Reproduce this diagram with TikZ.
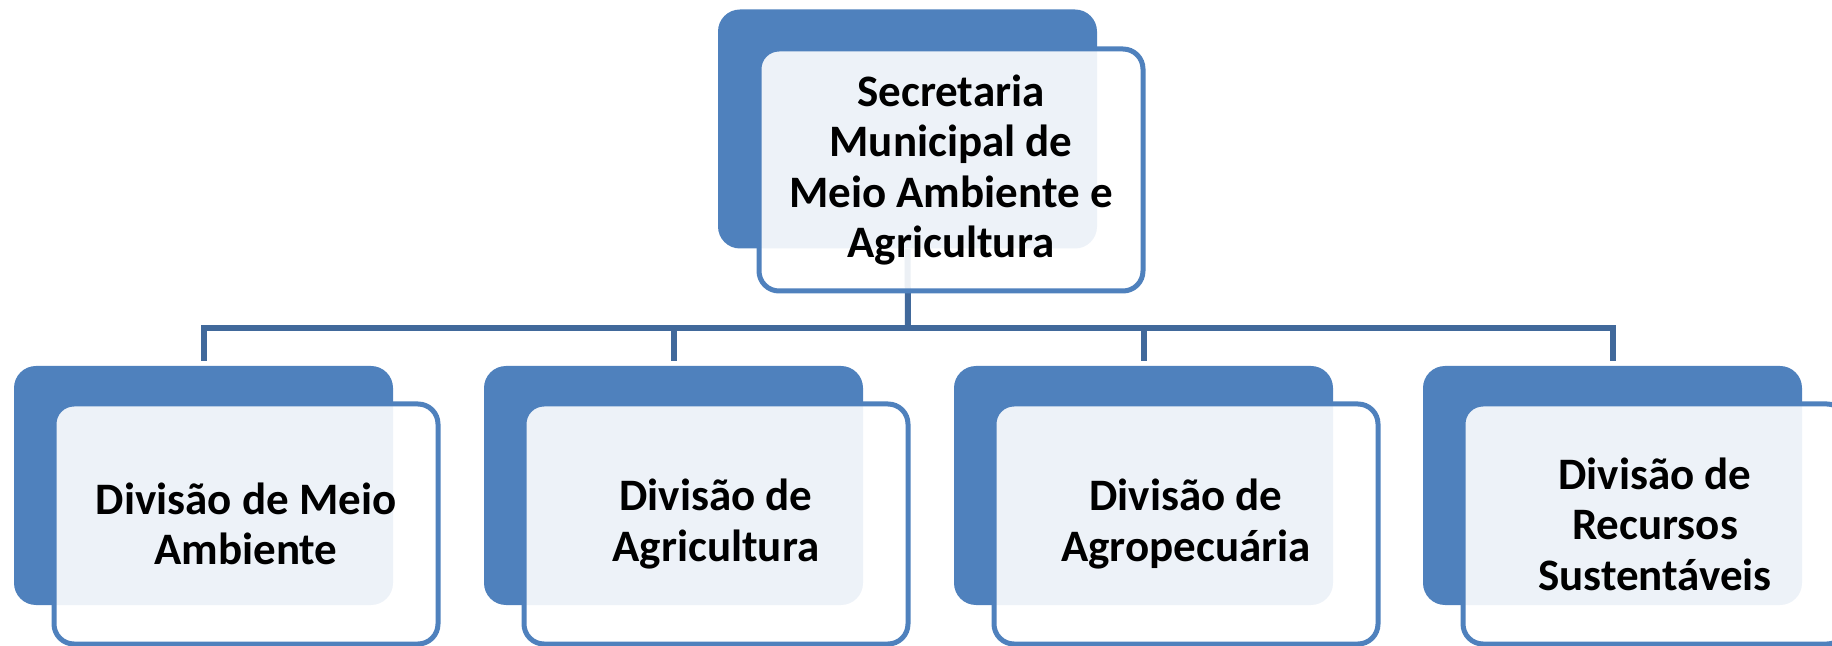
\documentclass[tikz,border=0pt]{standalone}
\usepackage{fontspec}
\setmainfont{Carlito}
\usetikzlibrary{calc}
\pgfdeclarelayer{bg}
\pgfsetlayers{bg,main}
\definecolor{accent}{RGB}{79,129,189}
\definecolor{connclr}{RGB}{65,105,155}
\tikzset{
  darkbox/.style={rectangle, rounded corners=11pt, fill=accent, draw=none,
    minimum width=189.5pt, minimum height=119.5pt, inner sep=0pt},
  lightbox/.style={rectangle, rounded corners=10pt, fill=white, fill opacity=0.9,
    text opacity=1, draw=accent, line width=2.5pt,
    minimum width=192pt, minimum height=120pt, inner sep=0pt, align=center,
    font=\bfseries\fontsize{22.5pt}{25.2pt}\selectfont},
  conn/.style={draw=connclr, line width=3pt}
}
\begin{document}
\begin{tikzpicture}[x=0.5pt, y=-0.5pt]
\useasboundingbox (0,0) rectangle (1832,646);
% top
\node[darkbox] (topdark) at (907.5,129) {};
\node[lightbox, minimum height=121pt] (toplight) at (951,170) {Secretaria\\Municipal de\\Meio Ambiente e\\Agricultura};
% bottom
\node[darkbox] (d1) at (203.5,485.5) {};
\node[darkbox] (d2) at (673.5,485.5) {};
\node[darkbox] (d3) at (1143.5,485.5) {};
\node[darkbox] (d4) at (1612.5,485.5) {};
\node[lightbox] (l1) at (246,524) {Divisão de Meio\\Ambiente};
\node[lightbox] (l2) at (716,524) {Divisão de\\Agricultura};
\node[lightbox] (l3) at (1186,524) {Divisão de\\Agropecuária};
\node[lightbox] (l4) at (1655,524) {Divisão de\\Recursos\\Sustentáveis};
\coordinate (bus) at (908,328);
\begin{pgfonlayer}{bg}
\draw[conn] (topdark.south) -- (bus);
\draw[conn, shorten <=2.5pt, shorten >=2.5pt] (d1.north) |- (bus) -| (d4.north);
\draw[conn, shorten >=2.5pt] (bus -| d2.north) -- (d2.north);
\draw[conn, shorten >=2.5pt] (bus -| d3.north) -- (d3.north);
\end{pgfonlayer}
\end{tikzpicture}
\end{document}
